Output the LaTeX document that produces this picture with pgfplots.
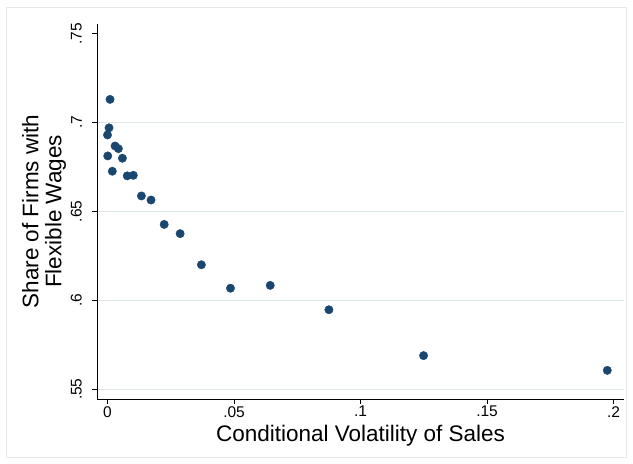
\documentclass[border=0pt]{standalone}
\usepackage{fontspec}
\setmainfont{Liberation Sans}
\usepackage{pgfplots}
\pgfplotsset{compat=1.18}
\definecolor{navy}{RGB}{26,71,111}
\definecolor{gridc}{RGB}{222,232,232}
\definecolor{framec}{RGB}{232,232,232}
\begin{document}
\begin{tikzpicture}[x=1pt,y=1pt]
\useasboundingbox (0,0) rectangle (633,464);
\draw[framec, line width=0.8pt] (6.5,7) rectangle (626.5,457);
\begin{axis}[at={(97pt,65pt)}, anchor=south west, scale only axis,
  width=527pt, height=375pt,
  xmin=-0.00415, xmax=0.2041, ymin=0.5445, ymax=0.7554,
  axis lines*=left,
  axis line style={black, line width=0.8pt},
  tick align=outside, major tick length=5pt,
  tick style={black, line width=0.8pt},
  xtick={0,0.05,0.1,0.15,0.2}, xticklabels={0,.05,.1,.15,.2},
  ytick={0.55,0.6,0.65,0.7}, yticklabels={.55,.6,.65,.7},
  extra y ticks={0.75}, extra y tick labels={.75},
  extra y tick style={grid=none},
  ymajorgrids, grid style={gridc, line width=0.8pt},
  tick label style={font=\fontsize{15.5}{16}\selectfont},
  yticklabel style={xshift=-10pt, rotate=90, anchor=south, inner sep=0pt},
  xticklabel style={anchor=north, inner sep=0pt, yshift=-2pt},
  xlabel={Conditional Volatility of Sales},
  ylabel={Share of Firms with\\Flexible Wages},
  label style={font=\fontsize{22.5}{23}\selectfont},
  xlabel style={at={(axis description cs:0.5,-0.0987)}, anchor=center},
  ylabel style={at={(axis description cs:-0.1006,0.5)}, anchor=center, align=center},
  clip=false,
]
\addplot[only marks, mark=*, mark size=4.2pt, draw=navy, fill=navy] table {
x y
0.0010 0.7130
0.0006 0.6970
0.0000 0.6930
0.0030 0.6868
0.0043 0.6853
0.0001 0.6812
0.0059 0.6799
0.0019 0.6726
0.0078 0.6700
0.0102 0.6703
0.0134 0.6587
0.0172 0.6564
0.0224 0.6427
0.0287 0.6375
0.0371 0.6200
0.0486 0.6068
0.0643 0.6084
0.0875 0.5947
0.1249 0.5689
0.1975 0.5606
};
\end{axis}
\end{tikzpicture}
\end{document}
